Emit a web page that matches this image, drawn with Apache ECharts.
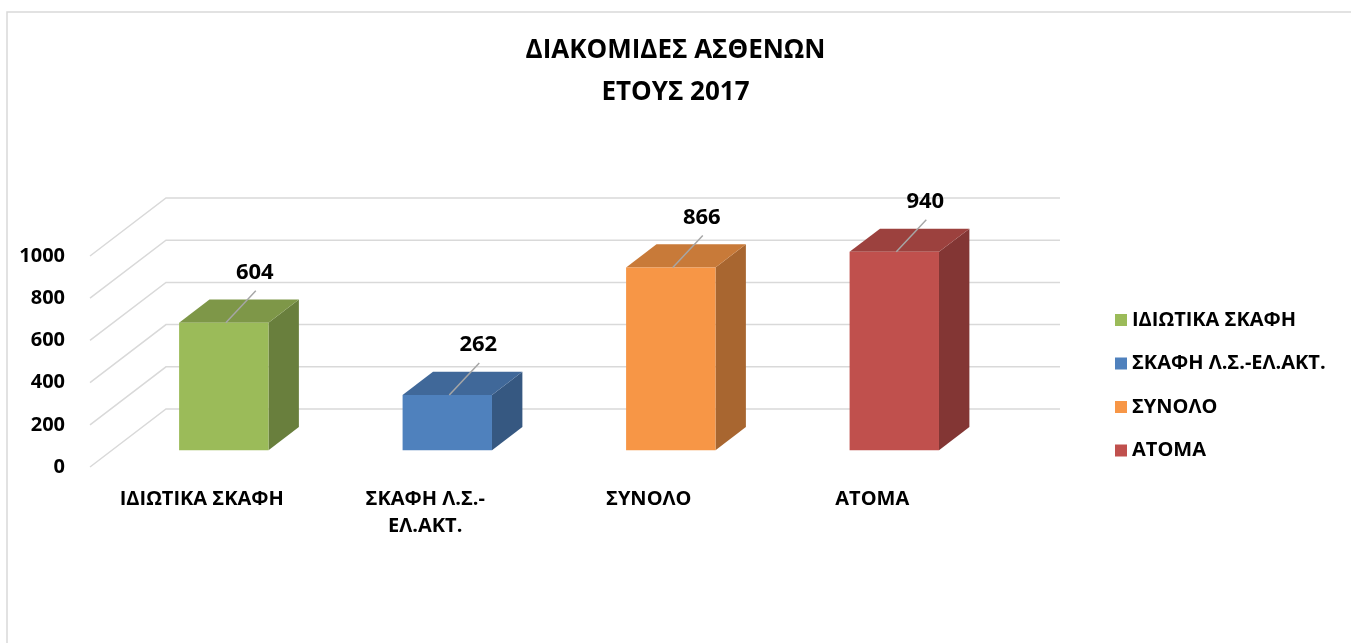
<!DOCTYPE html>
<html>
<head>
<meta charset="utf-8">
<script src="https://cdn.jsdelivr.net/npm/echarts@6/dist/echarts.min.js"></script>
<style>
  html, body { margin: 0; padding: 0; background: #fff; }
  #chart { width: 1351px; height: 643px; }
</style>
</head>
<body>
<div id="chart"></div>
<script>
const categories = ['ΙΔΙΩΤΙΚΑ ΣΚΑΦΗ', 'ΣΚΑΦΗ Λ.Σ.-ΕΛ.ΑΚΤ.', 'ΣΥΝΟΛΟ', 'ΑΤΟΜΑ'];
const values = [604, 262, 866, 940];
const colors = ['#9BBB59', '#4F81BD', '#F79646', '#C0504D'];
const yTicks = [0, 200, 400, 600, 800, 1000];

// depth of the fake 3d box (back wall offset)
const DX = 76, DY = -58;
const FRONT = 0.29, BACK = 0.69;
const FONT = '"Open Sans", "Noto Sans", sans-serif';

function shade(hex, k) {
  const n = parseInt(hex.slice(1), 16);
  const r = Math.round(((n >> 16) & 255) * k);
  const g = Math.round(((n >> 8) & 255) * k);
  const b = Math.round((n & 255) * k);
  return 'rgb(' + r + ',' + g + ',' + b + ')';
}

const chart = echarts.init(document.getElementById('chart'));

function renderGrid(params, api) {
  const cs = params.coordSys;
  const y = api.coord([0, api.value(1)])[1];
  const xl = cs.x, xr = cs.x + cs.width;
  return {
    type: 'polyline',
    shape: { points: [[xl, y], [xl + DX, y + DY], [xr + DX, y + DY]] },
    style: { stroke: '#D9D9D9', lineWidth: 1.5, fill: null },
    silent: true
  };
}

function renderBar(params, api) {
  const ci = api.value(0);
  const v = api.value(1);
  const base = api.coord([ci, 0]);
  const top = api.coord([ci, v]);
  const hw = api.size([1, 0])[0] * 0.2;
  const color = colors[ci];
  const fx = DX * FRONT, fy = DY * FRONT;
  const ddx = DX * (BACK - FRONT), ddy = DY * (BACK - FRONT);
  const x0 = base[0] - hw + fx, x1 = base[0] + hw + fx;
  const yb = base[1] + fy, yt = top[1] + fy;
  const cx = (x0 + x1) / 2;
  return {
    type: 'group',
    children: [
      {
        type: 'polygon',
        shape: { points: [[x1, yt], [x1 + ddx, yt + ddy], [x1 + ddx, yb + ddy], [x1, yb]] },
        style: { fill: shade(color, 0.68) }
      },
      {
        type: 'polygon',
        shape: { points: [[x0, yt], [x1, yt], [x1 + ddx, yt + ddy], [x0 + ddx, yt + ddy]] },
        style: { fill: shade(color, 0.81) }
      },
      {
        type: 'rect',
        shape: { x: x0, y: yt, width: x1 - x0, height: yb - yt },
        style: { fill: color }
      },
      {
        type: 'line',
        shape: { x1: cx + 2, y1: yt, x2: cx + 32, y2: yt - 32 },
        style: { stroke: '#A6A6A6', lineWidth: 1.5 }
      },
      {
        type: 'text',
        x: cx + 31,
        y: yt - 50,
        style: {
          text: String(v),
          fill: '#000',
          font: 'bold 22px ' + FONT,
          align: 'center',
          verticalAlign: 'middle'
        }
      }
    ]
  };
}

const series = [{
  name: 'grid',
  type: 'custom',
  renderItem: renderGrid,
  data: yTicks.map(t => [0, t]),
  z: 1,
  silent: true
}];

categories.forEach((name, i) => {
  series.push({
    name: name,
    type: 'custom',
    renderItem: renderBar,
    itemStyle: { color: colors[i] },
    data: [[i, values[i]]],
    z: 2
  });
});

chart.setOption({
  animation: false,
  title: {
    text: 'ΔΙΑΚΟΜΙΔΕΣ ΑΣΘΕΝΩΝ\nΕΤΟΥΣ 2017',
    left: 'center',
    top: 25,
    textStyle: {
      fontFamily: FONT,
      fontWeight: 'bold',
      fontSize: 26,
      lineHeight: 42,
      color: '#000'
    }
  },
  legend: {
    data: categories,
    orient: 'vertical',
    left: 1110,
    top: 304,
    itemWidth: 12,
    itemHeight: 12,
    itemGap: 21.5,
    icon: 'rect',
    textStyle: {
      fontFamily: FONT,
      fontWeight: 'bold',
      fontSize: 20,
      lineHeight: 22,
      color: '#000'
    }
  },
  graphic: [{
    type: 'rect',
    shape: { x: 7, y: 12, width: 1400, height: 700 },
    style: { fill: null, stroke: '#D9D9D9', lineWidth: 1.5 },
    silent: true
  }],
  grid: {
    left: 90,
    right: 367,
    top: 256,
    bottom: 176
  },
  xAxis: {
    type: 'category',
    data: categories,
    axisLine: { show: false },
    axisTick: { show: false },
    splitLine: { show: false },
    axisLabel: {
      margin: 19,
      interval: 0,
      color: '#000',
      fontFamily: FONT,
      fontWeight: 'bold',
      fontSize: 20,
      lineHeight: 27,
      formatter: s => s.replace('-', '-\n')
    }
  },
  yAxis: {
    type: 'value',
    min: 0,
    max: 1000,
    interval: 200,
    axisLine: { show: false },
    axisTick: { show: false },
    splitLine: { show: false },
    axisLabel: {
      margin: 25,
      color: '#000',
      fontFamily: FONT,
      fontWeight: 'bold',
      fontSize: 20,
      formatter: v => String(v)
    }
  },
  series: series
});
</script>
</body>
</html>
